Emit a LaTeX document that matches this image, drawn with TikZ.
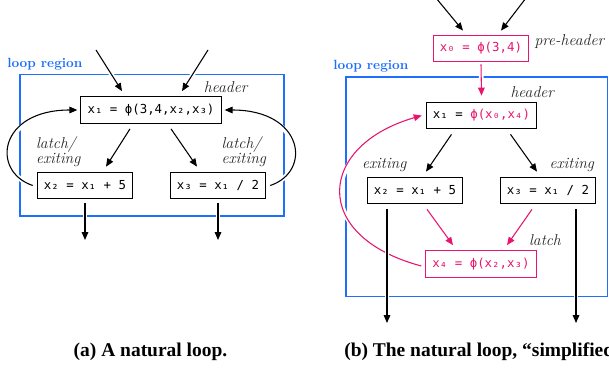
\documentclass[tikz,border=0pt]{standalone}
\usepackage{fontspec}
\usepackage{tikz}
\usetikzlibrary{arrows.meta}

\newfontfamily\codefont{DejaVu Sans Mono}
\newfontfamily\capfont{Liberation Serif}

\definecolor{loopblue}{RGB}{31,111,255}
\definecolor{phipink}{RGB}{232,20,110}

\tikzset{
  stmt/.style={draw, line width=0.8pt, font=\codefont\fontsize{9.3}{11}\selectfont,
    minimum height=20pt, inner xsep=5pt, inner ysep=0pt},
  phistmt/.style={stmt, draw=phipink, text=phipink},
  blocklbl/.style={font=\fontsize{11.8}{10.8}\selectfont\itshape, text=black!85,
    inner sep=0pt, align=left},
  regionlbl/.style={font=\bfseries, text=loopblue, inner sep=0pt},
  region/.style={draw=loopblue, line width=1.1pt},
  edge/.style={-{Triangle[length=6pt,width=5pt]}, line width=0.8pt,
    preaction={draw=white, line width=3.5pt, -}},
  phiedge/.style={edge, draw=phipink},
  caplbl/.style={font=\capfont\bfseries\fontsize{14.6}{16}\selectfont, inner sep=0pt}
}

\begin{document}
\begin{tikzpicture}[x=0.75pt, y=-0.75pt]
\useasboundingbox (0,0) rectangle (609,374);

% (a) natural loop
\node[regionlbl, anchor=base west] (regA) at (7,68) {loop region};
\draw[region] (20,74.5) rectangle (284,216);

\node[stmt] (hdrA) at (151,110) {x₁ = ϕ(3,4,x₂,x₃)};
\node[stmt] (lchA) at (85,185.5) {x₂ = x₁ + 5};
\node[stmt] (rchA) at (218,185.5) {x₃ = x₁ / 2};

\node[blocklbl, anchor=base west] (hdrAlbl) at ([shift={(-18,-4)}]hdrA.north east) {header};
\node[blocklbl, anchor=south west] (lchAlbl) at ([shift={(-1,-5)}]lchA.north west) {latch/\\exiting};
\node[blocklbl, anchor=south east] (rchAlbl) at ([shift={(0,-5)}]rchA.north east) {latch/\\exiting};

\coordinate (inA1) at (96,50);
\coordinate (inA2) at (208,50);
\draw[edge] (inA1) -- ([shift={(-29,-5)}]hdrA.north);
\draw[edge] (inA2) -- ([shift={(31,-5)}]hdrA.north);

\draw[edge] ([shift={(-21,5)}]hdrA.south) -- ([shift={(21,-5)}]lchA.north);
\draw[edge] ([shift={(20,5)}]hdrA.south) -- ([shift={(-21,-5)}]rchA.north);

\draw[edge] ([shift={(-4,0)}]lchA.west) .. controls +(-42,-14) and +(-79,0) .. ([shift={(-3,0)}]hdrA.west);
\draw[edge] ([shift={(4,0)}]rchA.east) .. controls +(42,-14) and +(79,0) .. ([shift={(3,0)}]hdrA.east);

\coordinate (outA1) at (85,240);
\coordinate (outA2) at (218,240);
\draw[edge] ([shift={(0,4)}]lchA.south) -- (outA1);
\draw[edge] ([shift={(0,4)}]rchA.south) -- (outA2);

\node[caplbl] (capA) at (150.5,352) {(a) A natural loop.};

% (b) simplified loop
\node[regionlbl, anchor=base west] (regB) at (333,70) {loop region};
\draw[region] (346,77) rectangle (607.5,296.7);

\node[phistmt] (preB) at (481,48.5) {x₀ = ϕ(3,4)};
\node[stmt] (hdrB) at (481.5,115.5) {x₁ = \textcolor{phipink}{ϕ(x₀,x₄)}};
\node[stmt] (lchB) at (415,190.5) {x₂ = x₁ + 5};
\node[stmt] (rchB) at (548,190.5) {x₃ = x₁ / 2};
\node[phistmt] (latB) at (481,264) {x₄ = ϕ(x₂,x₃)};

\node[blocklbl, anchor=base west] (preBlbl) at ([shift={(5,-2.5)}]preB.east) {pre-header};
\node[blocklbl, anchor=base west] (hdrBlbl) at ([shift={(-27,-4)}]hdrB.north east) {header};
\node[blocklbl, anchor=south west] (lchBlbl) at ([shift={(-5,-5)}]lchB.north west) {exiting};
\node[blocklbl, anchor=south east] (rchBlbl) at ([shift={(-2,-5)}]rchB.north east) {exiting};
\node[blocklbl, anchor=base west] (latBlbl) at ([shift={(-8,-5)}]latB.north east) {latch};

\coordinate (inB1) at (436,-2);
\coordinate (inB2) at (526,-2);
\draw[edge] (inB1) -- ([shift={(-18,-4)}]preB.north);
\draw[edge] (inB2) -- ([shift={(20,-4)}]preB.north);
\draw[phiedge] ([shift={(0,2)}]preB.south) -- ([shift={(0,-6)}]hdrB.north);

\draw[edge] ([shift={(-30,5)}]hdrB.south) -- ([shift={(11,-5)}]lchB.north);
\draw[edge] ([shift={(29,5)}]hdrB.south) -- ([shift={(-11,-5)}]rchB.north);
\draw[phiedge] ([shift={(12,5)}]lchB.south) -- ([shift={(-28,-5)}]latB.north);
\draw[phiedge] ([shift={(-16,5)}]rchB.south) -- ([shift={(26,-5)}]latB.north);

\draw[phiedge] ([shift={(-4,2)}]latB.west) .. controls +(-112,-30) and +(-104,30) .. ([shift={(-4,0)}]hdrB.west);

\coordinate (outB1) at (387,323);
\coordinate (outB2) at (576,323);
\draw[edge] ([shift={(-28,5)}]lchB.south) -- (outB1);
\draw[edge] ([shift={(28,5)}]rchB.south) -- (outB2);

\node[caplbl, anchor=west] (capB) at (344,352) {(b) The natural loop, “simplified”.};

\end{tikzpicture}
\end{document}
